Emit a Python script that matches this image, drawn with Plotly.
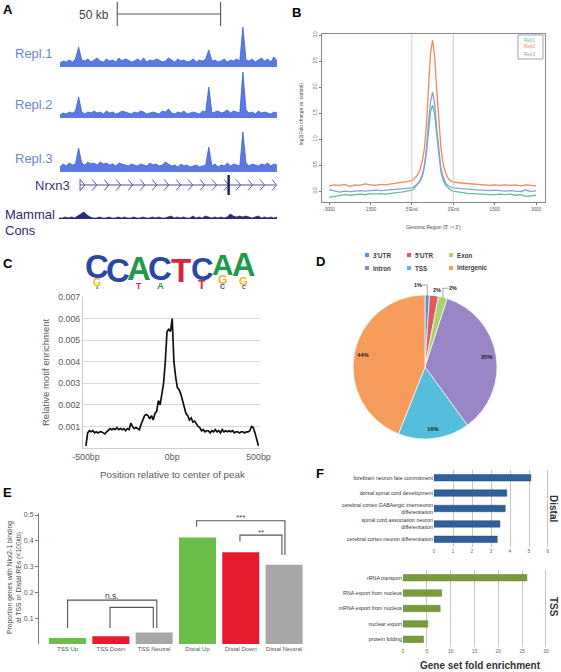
import math
import plotly.graph_objects as go

W, H = 561, 672
def X(p): return p / W
def Y(p): return 1 - p / H

FONT = "Liberation Sans, Arial, Helvetica, sans-serif"

# ---------------- Panel A : genome browser tracks ----------------
KB_STEP = 1.5
repl1 = [4,6,5,7,5,8,20,7,6,8, 5,7,9,6,5,8,6,7,5,9, 6,8,7,5,6,8,6,9,5,7,
         6,8,7,5,6,9,7,5,8,6, 7,5,6,8,5,7,6,8,17,6, 7,5,6,8,5,7,6,8,6,40,
         7,6,8,5,7,9,6,8,5,10,6]
repl2 = [3,5,4,6,5,7,21,6,4,6, 5,7,5,6,4,7,5,6,4,5, 7,6,5,4,6,5,7,6,4,5,
         6,5,4,7,6,9,5,4,6,5, 7,4,5,6,5,4,7,6,31,5, 6,7,5,6,8,5,7,6,5,46,
         8,5,6,4,7,5,6,5,4,6,5]
repl3 = [5,8,6,9,7,8,24,9,7,10, 8,9,7,10,8,9,7,8,6,9, 8,7,6,8,7,6,8,7,6,9,
         7,8,6,7,10,8,6,7,5,8, 6,7,5,6,7,5,6,7,25,6, 8,5,7,6,9,6,8,7,6,40,
         9,6,8,7,6,8,7,9,6,8,7]
mammal_cons = [1,1,2,1,2,1,3,5,7,4, 2,1,1,2,1,1,2,1,1,2, 1,2,1,1,2,1,1,2,1,1,
               2,1,2,1,1,2,3,1,2,1, 2,1,1,3,1,2,1,3,2,1, 2,1,2,1,2,5,3,2,3,2,
               3,2,1,2,3,1,2,1,2,1,2]
track_labels = ["Repl.1", "Repl.2", "Repl.3"]
scale_bar_kb = [27.7, 77.7]
scale_label = "50 kb"
gene_label = "Nrxn3"
gene_span_kb = [9.7, 104.4]
gene_exon_kb = 81.6
chevron_step_kb = 5.8

# ---------------- Panel B : metagene profile ----------------
b_pos = [0,2.5,5,7.5,10,12.5,15,17.5,20,22.5,25,27.5,30,32.5,35,37.5,
         40,41,42,43,44,45,46,47,48,49,50,51,52,53,54,55,56,57,58,59,60,
         62.5,65,67.5,70,72.5,75,77.5,80,82.5,85,87.5,90,92.5,95,97.5,100]
b_rep1 = [-0.12,-0.10,-0.08,-0.07,-0.08,-0.07,-0.06,-0.07,-0.05,-0.06,-0.05,-0.06,-0.04,-0.03,-0.02,0.00,
          0.02,0.05,0.09,0.13,0.19,0.28,0.44,0.72,1.15,1.52,1.65,1.48,1.08,0.66,0.38,0.22,0.13,0.08,0.04,0.01,0.00,
          -0.02,-0.03,-0.05,-0.05,-0.06,-0.06,-0.07,-0.07,-0.06,-0.07,-0.06,-0.08,-0.07,-0.10,-0.09,-0.08]
b_rep2 = [0.10,0.12,0.11,0.13,0.09,0.12,0.11,0.14,0.12,0.11,0.13,0.12,0.14,0.15,0.16,0.18,
          0.20,0.23,0.27,0.33,0.42,0.58,0.80,1.25,2.05,2.65,2.90,2.60,1.95,1.30,0.85,0.55,0.38,0.28,0.22,0.19,0.17,
          0.16,0.15,0.14,0.13,0.12,0.12,0.11,0.12,0.11,0.12,0.11,0.12,0.10,0.12,0.11,0.10]
b_rep3 = [0.03,0.01,-0.02,0.00,-0.01,0.00,0.01,0.00,0.01,0.02,0.01,0.02,0.03,0.03,0.04,0.05,
          0.06,0.08,0.11,0.15,0.21,0.31,0.48,0.80,1.30,1.72,1.90,1.68,1.20,0.75,0.45,0.28,0.18,0.12,0.09,0.07,0.06,
          0.05,0.04,0.04,0.03,0.02,0.02,0.01,0.02,0.01,0.00,0.01,0.00,-0.01,0.02,-0.01,0.01]
b_names = ["Rep1", "Rep2", "Rep3"]
b_colors = ["#5fbf9c", "#f4865a", "#8c9fd6"]
b_tickvals = [0, 20, 40, 60, 80, 100]
b_ticktext = ["-3000", "-1500", "5'End", "3'End", "1500", "3000"]
b_peak_bounds = [40, 60]
b_yticks = [0, 0.5, 1.0, 1.5, 2.0, 2.5, 3.0]

# ---------------- Panel C : motif enrichment ----------------
c_bp = list(range(-500, 501, 10))
c_enrich_e4 = [1,7,8,7.5,8,7,7.5,7,7.5,7.5, 7,6.5,7.5,8.5,9,8.5,9,8.5,9.5,8.5,
               9,8.5,9,8,9,8.5,11.5,10,9,9.5, 9,8.5,11,13.5,15,15.5,15,13.5,15,13,
               16,17,22,20,25,30,40,54,55,54, 60,40,33,28,27,25,22,19,16,15,
               13,14,12,12.5,11,10,9.5,8,8.5,7.5, 8,8,7,8,7.5,8.5,7.5,8,7,8.5,
               7.5,8,7.5,8,7.5,8,7,7.5,7.5,7, 7.5,7.5,7,7.5,7.5,8,10,9.5,7,4,1]
c_yticks = [0.001, 0.002, 0.003, 0.004, 0.005, 0.006, 0.007]
c_xticks = [-500, 0, 500]
c_xticktext = ["-500bp", "0bp", "500bp"]
logo_stacks = [
    [("A", 0.12), ("G", 0.38), ("C", 1.28)],
    [("C", 1.85)],
    [("T", 0.32), ("A", 1.50)],
    [("A", 0.35), ("C", 1.45)],
    [("T", 1.90)],
    [("T", 0.45), ("C", 1.15)],
    [("C", 0.25), ("G", 0.45), ("A", 1.10)],
    [("C", 0.20), ("G", 0.42), ("A", 1.20)],
]
logo_colors = {"A": "#1f9a4a", "C": "#2b47a6", "G": "#f4b130", "T": "#d7263d"}

# ---------------- Panel D : genomic distribution ----------------
d_labels = ["3'UTR", "5'UTR", "Exon", "Intron", "TSS", "Intergenic"]
d_values = [1, 2, 2, 35, 16, 44]
d_colors = ["#5d8fd8", "#de5a62", "#acd26e", "#9a85c6", "#55bedc", "#f59c5c"]

# ---------------- Panel E : proportion bars ----------------
e_cats = ["TSS Up", "TSS Down", "TSS Neutral", "Distal Up", "Distal Down", "Distal Neutral"]
e_values = [0.023, 0.030, 0.045, 0.413, 0.356, 0.307]
e_colors = ["#6cbd4a", "#e61b2e", "#a7a7a7", "#6cbd4a", "#e61b2e", "#a7a7a7"]
e_yticks = [0.1, 0.2, 0.3, 0.4, 0.5]
# brackets: (x_left, x_right, y_left, y_right, y_top, label)
e_brackets = [
    (0.00, 2.06, 0.062, 0.062, 0.170, "n.s."),
    (0.98, 1.98, 0.062, 0.062, 0.142, ""),
    (2.98, 5.02, 0.455, 0.345, 0.478, "***"),
    (3.98, 4.95, 0.397, 0.345, 0.422, "**"),
]

# ---------------- Panel F : GO enrichment ----------------
f_distal_terms = ["forebrain neuron fate commitment",
                  "dorsal spinal cord development",
                  "cerebral cortex GABAergic interneuron<br>differentiation",
                  "spinal cord association neuron<br>differentiation",
                  "cerebral cortex neuron differentiation"]
f_distal_vals = [5.1, 3.83, 3.75, 3.47, 3.33]
f_tss_terms = ["rRNA transport", "RNA export from nucleus", "mRNA export from nucleus",
               "nuclear export", "protein folding"]
f_tss_vals = [26.0, 8.1, 7.8, 5.2, 4.3]

# =================================================================
fig = go.Figure()
layout = dict(width=W, height=H, margin=dict(l=0, r=0, t=0, b=0),
              paper_bgcolor="white", plot_bgcolor="rgba(0,0,0,0)",
              showlegend=False, template="none",
              font=dict(family=FONT, color="#333"))
annotations, shapes = [], []

def refs(n):
    return ("x", "y") if n == 1 else (f"x{n}", f"y{n}")

def axis_pair(n, xdom, ydom, xkw, ykw):
    xr, yr = refs(n)
    xn = "xaxis" if n == 1 else f"xaxis{n}"
    yn = "yaxis" if n == 1 else f"yaxis{n}"
    layout[xn] = dict(domain=[X(xdom[0]), X(xdom[1])], anchor=yr, automargin=False,
                      fixedrange=True, **xkw)
    layout[yn] = dict(domain=[Y(ydom[1]), Y(ydom[0])], anchor=xr, automargin=False,
                      fixedrange=True, **ykw)

def ann(text, x, y, size, color="#333", xanchor="center", yanchor="middle",
        angle=0, xref="paper", yref="paper", **kw):
    annotations.append(dict(text=text, x=x, y=y, xref=xref, yref=yref, showarrow=False,
                            xanchor=xanchor, yanchor=yanchor, textangle=angle,
                            font=dict(family=FONT, size=size, color=color), **kw))

HID = dict(visible=False)

# ---- Panel A ----
kb = [i * KB_STEP for i in range(len(repl1))]
track_tops = [(17, 67), (68, 118), (122, 172)]
for i, vals in enumerate([repl1, repl2, repl3]):
    n = i + 1
    axis_pair(n, (60, 277), track_tops[i], dict(HID, range=[0, 105]), dict(HID, range=[0, 50]))
    xr, yr = refs(n)
    fig.add_trace(go.Scatter(x=kb, y=vals, mode="lines", fill="tozeroy",
                             line=dict(color="#3c60d8", width=0.8), fillcolor="#5a79e2",
                             xaxis=xr, yaxis=yr, hoverinfo="skip"))
    ann(track_labels[i], X(55), Y(track_tops[i][1] - 14), 13, "#6d87cf", xanchor="right")

# gene model
axis_pair(4, (60, 277), (175, 195), dict(HID, range=[0, 105]), dict(HID, range=[-1, 1]))
fig.add_trace(go.Scatter(x=gene_span_kb, y=[0, 0], mode="lines",
                         line=dict(color="#4a4a9c", width=1), xaxis="x4", yaxis="y4", hoverinfo="skip"))
chev_x, chev_y = [gene_span_kb[0], gene_span_kb[0], None], [-0.6, 0.6, None]
c = gene_span_kb[0] + 1.2
while c < gene_span_kb[1]:
    chev_x += [c - 1.1, c + 1.1, c - 1.1, None]
    chev_y += [0.55, 0, -0.55, None]
    c += chevron_step_kb
fig.add_trace(go.Scatter(x=chev_x, y=chev_y, mode="lines", line=dict(color="#4a4a9c", width=0.9),
                         xaxis="x4", yaxis="y4", hoverinfo="skip"))
fig.add_trace(go.Scatter(x=[gene_exon_kb, gene_exon_kb], y=[-1, 1], mode="lines",
                         line=dict(color="#1c1c6a", width=2.4), xaxis="x4", yaxis="y4", hoverinfo="skip"))
ann(gene_label, X(72), Y(185), 13, "#3a3a78", xanchor="right")

# conservation
axis_pair(5, (59, 277), (199, 219), dict(HID, range=[0, 105]), dict(HID, range=[0, 20]))
fig.add_trace(go.Scatter(x=kb, y=mammal_cons, mode="lines", fill="tozeroy",
                         line=dict(color="#22226a", width=0.7), fillcolor="#2a2a78",
                         xaxis="x5", yaxis="y5", hoverinfo="skip"))
ann("Mammal", X(3), Y(214), 13, "#2c2c66", xanchor="left")
ann("Cons", X(3), Y(230), 13, "#2c2c66", xanchor="left")

# scale bar (in track coordinates)
shapes.append(dict(type="line", xref="x", yref="paper", x0=scale_bar_kb[0], x1=scale_bar_kb[1],
                   y0=Y(14), y1=Y(14), line=dict(color="#555", width=1.1)))
for xv in scale_bar_kb:
    shapes.append(dict(type="line", xref="x", yref="paper", x0=xv, x1=xv, y0=Y(2), y1=Y(26),
                       line=dict(color="#555", width=1.1)))
ann(scale_label, X(111), Y(15), 12, "#444", xanchor="right")

# ---- Panel B ----
tickB = dict(family=FONT, size=4.6, color="#555")
axis_pair(6, (322, 545), (34, 202),
          dict(range=[-3.4, 104.3], tickvals=b_tickvals, ticktext=b_ticktext, ticks="outside",
               ticklen=2.5, tickcolor="#777", tickfont=tickB, showline=True, mirror=True,
               linecolor="#888", linewidth=0.8, showgrid=False, zeroline=False),
          dict(range=[-0.21, 3.02], tickvals=b_yticks, ticktext=[f"{v:.1f}" for v in b_yticks],
               tickangle=-90, ticks="outside", ticklen=2.5, tickcolor="#777", tickfont=tickB,
               showline=True, mirror=True, linecolor="#888", linewidth=0.8,
               showgrid=False, zeroline=False))
for xv in b_peak_bounds:
    shapes.append(dict(type="line", xref="x6", yref="y6 domain", x0=xv, x1=xv, y0=0, y1=1,
                       line=dict(color="#cfcfcf", width=1)))
for name, vals, col in zip(b_names, [b_rep1, b_rep2, b_rep3], b_colors):
    fig.add_trace(go.Scatter(x=b_pos, y=vals, mode="lines", name=name,
                             line=dict(color=col, width=1.3), xaxis="x6", yaxis="y6", hoverinfo="skip"))
shapes.append(dict(type="rect", xref="paper", yref="paper", x0=X(518), x1=X(543), y0=Y(59), y1=Y(35),
                   line=dict(color="#666", width=0.6), fillcolor="white"))
for i, (name, col) in enumerate(zip(b_names, b_colors)):
    ann(name, X(537), Y(40 + i * 7), 4.6, col, xanchor="right")
ann("log2(Fold change vs. control)", X(301), Y(114), 4.8, "#444", angle=-90)
ann("Genomic Region (5' -> 3')", X(433), Y(227), 4.8, "#444")

# ---- Panel C ----
tickC = dict(family=FONT, size=8.8, color="#595959")
axis_pair(7, (83, 260), (297, 448),
          dict(range=[-517, 509], tickvals=c_xticks, ticktext=c_xticktext, tickfont=tickC,
               ticks="", showline=True, linecolor="#d0d0d0", showgrid=False, zeroline=False),
          dict(range=[0, 0.007], tickvals=c_yticks, ticktext=[f"{v:.3f}" for v in c_yticks],
               tickfont=tickC, ticks="", showline=True, linecolor="#c8c8c8", showgrid=True,
               gridcolor="#d9d9d9", gridwidth=1, zeroline=False))
fig.add_trace(go.Scatter(x=c_bp, y=[v * 1e-4 for v in c_enrich_e4], mode="lines",
                         line=dict(color="#111", width=1.7), xaxis="x7", yaxis="y7", hoverinfo="skip"))
ann("Relative motif enrichment", X(45), Y(372), 9.5, "#595959", angle=-90)
ann("Position relative to center of peak", X(173), Y(474), 9.8, "#595959")

# motif logo
axis_pair(8, (87, 254), (251, 289), dict(HID, range=[0.5, 8.5]), dict(HID, range=[0, 1.95]))
px_per_bit = (289 - 251) / 1.95
for pos, stack in enumerate(logo_stacks, start=1):
    base = 0.0
    for letter, h in stack:
        size = min(h * px_per_bit / 0.72, 33)
        ann(f"<b>{letter}</b>", pos, base + h / 2, size, logo_colors[letter],
            xref="x8", yref="y8")
        base += h

# ---- Panel D ----
pie_px = (353, 497, 295, 439)
fig.add_trace(go.Pie(values=d_values, labels=d_labels, sort=False, direction="clockwise",
                     rotation=0, textinfo="none", hoverinfo="skip",
                     marker=dict(colors=d_colors, line=dict(color="white", width=0.7)),
                     domain=dict(x=[X(pie_px[0]), X(pie_px[1])], y=[Y(pie_px[3]), Y(pie_px[2])])))
cx, cy = (pie_px[0] + pie_px[1]) / 2, (pie_px[2] + pie_px[3]) / 2
R = (pie_px[1] - pie_px[0]) / 2
tot = sum(d_values)
cum = 0
small_offsets = [(-9.5, -10, True), (3, -5.5, False), (10, -9, True)]
k = 0
for v in d_values:
    mid = (cum + v / 2) / tot * 2 * math.pi
    cum += v
    if v >= 10:
        r = 0.87 * R
        ann(f"<b>{v}%</b>", X(cx + r * math.sin(mid)), Y(cy - r * math.cos(mid)), 5.8, "#222")
    else:
        rx, ry = cx + R * math.sin(mid), cy - R * math.cos(mid)
        dx, dy, lead = small_offsets[k]
        lx, ly = rx + dx, ry + dy
        ann(f"<b>{v}%</b>", X(lx), Y(ly), 5.5, "#222")
        if lead:
            ex = lx + (4 if dx < 0 else -4.5)
            shapes.append(dict(type="path", xref="paper", yref="paper",
                               path=f"M {X(rx)} {Y(ry + 1)} L {X(rx)} {Y(ly)} L {X(ex)} {Y(ly)}",
                               line=dict(color="#666", width=0.6)))
        k += 1
leg_cols = [367, 409, 451]
leg_rows = [255, 268]
for i, (lab, col) in enumerate(zip(d_labels, d_colors)):
    lx, ly = leg_cols[i % 3], leg_rows[i // 3]
    shapes.append(dict(type="rect", xref="paper", yref="paper", x0=X(lx - 2), x1=X(lx + 2),
                       y0=Y(ly + 2), y1=Y(ly - 2), line=dict(width=0), fillcolor=col))
    ann(f"<b>{lab}</b>", X(lx + 4), Y(ly), 6.3, "#404040", xanchor="left")

# ---- Panel E ----
axis_pair(9, (39, 304), (513, 644),
          dict(range=[-0.66, 5.46], tickvals=list(range(len(e_cats))), ticktext=e_cats,
               tickfont=dict(family=FONT, size=6, color="#555"), ticks="", showline=False,
               showgrid=False, zeroline=False),
          dict(range=[0, 0.5078], tickvals=e_yticks, ticktext=[f"{v:.1f}" for v in e_yticks],
               tickfont=dict(family=FONT, size=7, color="#555"), ticks="outside", ticklen=3,
               tickcolor="#777", showline=True, linecolor="#777", linewidth=1,
               showgrid=False, zeroline=False))
fig.add_trace(go.Bar(x=list(range(len(e_cats))), y=e_values, width=0.855,
                     marker=dict(color=e_colors, line=dict(width=0)),
                     xaxis="x9", yaxis="y9", hoverinfo="skip"))
for xl, xr_, yl, yr_, yt, lab in e_brackets:
    fig.add_trace(go.Scatter(x=[xl, xl, xr_, xr_], y=[yl, yt, yt, yr_], mode="lines",
                             line=dict(color="#555", width=1.1), xaxis="x9", yaxis="y9",
                             hoverinfo="skip"))
    if lab:
        ann(lab, (xl + xr_) / 2, yt + (0.018 if lab == "n.s." else 0.012), 8.5 if lab == "n.s." else 8,
            "#444", xref="x9", yref="y9")
ann("Proportion genes with Nkx2-1 binding<br>at TSS or Distal REs (<100kb)", X(14), Y(578), 6.8,
    "#444", angle=-90)

# ---- Panel F ----
gridF = dict(showgrid=True, gridcolor="#c4c4c4", gridwidth=0.8, zeroline=False, showline=False,
             ticks="", tickfont=dict(family=FONT, size=5, color="#666"))
axis_pair(10, (434, 548), (470, 547),
          dict(range=[0, 6], tickvals=list(range(7)), **gridF),
          dict(type="category", autorange="reversed", ticks="", showgrid=False, showline=False,
               zeroline=False, tickfont=dict(family=FONT, size=5.3, color="#333")))
fig.add_trace(go.Bar(x=f_distal_vals, y=f_distal_terms, orientation="h", width=0.42,
                     marker=dict(color="#30609a", line=dict(color="#25497a", width=0.5)),
                     xaxis="x10", yaxis="y10", hoverinfo="skip"))
axis_pair(11, (403, 546), (570, 647),
          dict(range=[0, 30], tickvals=list(range(0, 31, 5)), **gridF),
          dict(type="category", autorange="reversed", ticks="", showgrid=False, showline=False,
               zeroline=False, tickfont=dict(family=FONT, size=5.3, color="#333")))
fig.add_trace(go.Bar(x=f_tss_vals, y=f_tss_terms, orientation="h", width=0.42,
                     marker=dict(color="#7b9a3c", line=dict(color="#62802c", width=0.5)),
                     xaxis="x11", yaxis="y11", hoverinfo="skip"))
for xr_, yr_, xmax in [("x10", "y10", 6), ("x11", "y11", 30)]:
    shapes.append(dict(type="line", xref=xr_, yref=f"{yr_} domain", x0=xmax, x1=xmax, y0=0, y1=1,
                       line=dict(color="#8a8a8a", width=1)))
ann("<b>Distal</b>", X(554), Y(508), 10, "#333", angle=90)
ann("<b>TSS</b>", X(554), Y(607), 10, "#333", angle=90)
ann("<b>Gene set fold enrichment</b>", X(480), Y(665), 10, "#333")

# ---- panel letters ----
for lab, (lx, ly) in {"A": (8, 10), "B": (296, 12), "C": (8, 263), "D": (320, 262),
                      "E": (8, 493), "F": (320, 473)}.items():
    ann(f"<b>{lab}</b>", X(lx), Y(ly), 13, "#000")

layout["annotations"] = annotations
layout["shapes"] = shapes
fig.update_layout(**layout)
fig.write_html("out.html", config={"displayModeBar": False},
               post_script="document.body.style.margin='0px';document.body.style.overflow='hidden';")
